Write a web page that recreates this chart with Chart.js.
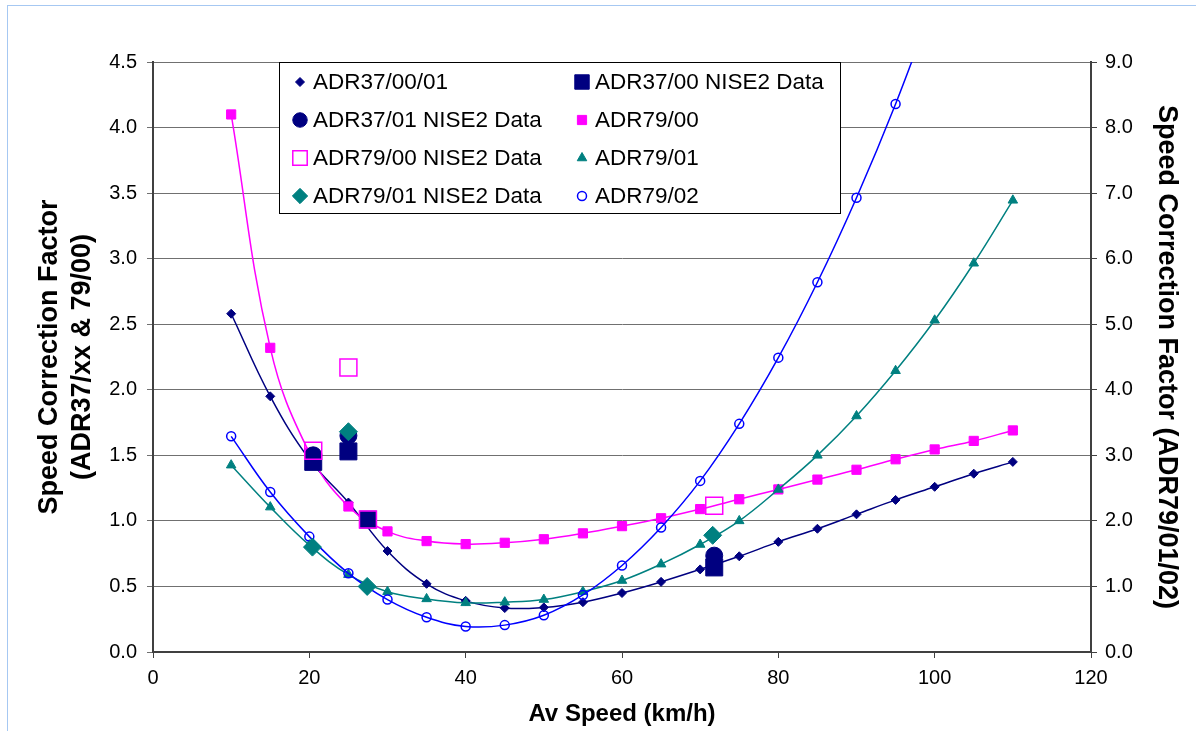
<!DOCTYPE html>
<html>
<head>
<meta charset="utf-8">
<title>Speed Correction Factor</title>
<script src="https://cdn.jsdelivr.net/npm/chart.js@4.4.1/dist/chart.umd.min.js"></script>
<style>
  html, body { margin: 0; padding: 0; background: #fff; }
  #wrap { position: relative; width: 1196px; height: 731px; }
  #frame { position: absolute; left: 7px; top: 5px; right: 0; bottom: 0;
           border-top: 1px solid #a6c8f2; border-left: 1px solid #a6c8f2; pointer-events: none; }
</style>
</head>
<body>
<div id="wrap">
  <canvas id="mycanvas"></canvas>
  <div id="frame"></div>
</div>
<script>
// av speed (km/h) for the model curves
var speeds = [10, 15, 20, 25, 30, 35, 40, 45, 50, 55, 60, 65, 70, 75, 80, 85, 90, 95, 100, 105, 110];

// left axis
var adr37_00_01 = [2.58, 1.95, 1.47, 1.14, 0.77, 0.52, 0.39, 0.335, 0.34, 0.38, 0.45, 0.535, 0.63, 0.73, 0.84, 0.94, 1.05, 1.16, 1.26, 1.36, 1.45];
var adr79_00 = [4.10, 2.32, 1.52, 1.11, 0.92, 0.846, 0.823, 0.833, 0.86, 0.905, 0.96, 1.02, 1.09, 1.165, 1.24, 1.315, 1.39, 1.47, 1.545, 1.61, 1.69];
// right axis
var adr79_01 = [2.85, 2.21, 1.63, 1.18, 0.92, 0.81, 0.75, 0.76, 0.80, 0.92, 1.09, 1.34, 1.64, 2.00, 2.48, 3.00, 3.60, 4.29, 5.06, 5.93, 6.89];
var adr79_02 = [3.29, 2.44, 1.76, 1.20, 0.80, 0.53, 0.39, 0.41, 0.56, 0.87, 1.32, 1.90, 2.61, 3.48, 4.49, 5.64, 6.93, 8.36, 9.95];

// NISE2 measured points
var nise37_00_x = [20.5, 25, 27.5, 71.8];
var nise37_00_y = [1.45, 1.53, 1.01, 0.645];
var nise37_01_x = [20.5, 25, 71.8];
var nise37_01_y = [1.50, 1.65, 0.735];
var nise79_00_x = [20.5, 25, 27.5, 71.8];
var nise79_00_y = [1.535, 2.17, 1.01, 1.115];
var nise79_01_x = [20.4, 25, 27.4, 71.6];
var nise79_01_y = [1.60, 3.36, 1.00, 1.78];

var leftTicks = ['0.0', '0.5', '1.0', '1.5', '2.0', '2.5', '3.0', '3.5', '4.0', '4.5'];

var NAVY = '#000080', MAGENTA = '#FF00FF', TEAL = '#008080', BLUE = '#0000FF';

function pairs(xs, ys) {
  var out = [];
  for (var i = 0; i < ys.length; i++) out.push({x: xs[i], y: ys[i]});
  return out;
}

Chart.defaults.font.family = "'Liberation Sans', Arial, sans-serif";
Chart.defaults.color = '#000';

// legend box inside the plot, drawn over the grid
var boxLegend = {
  id: 'boxLegend',
  afterDatasetsDraw: function(chart) {
    var ctx = chart.ctx, area = chart.chartArea;
    var left = area.left + 126, top = area.top, w = 561, h = 151;
    ctx.save();
    ctx.fillStyle = '#fff';
    ctx.fillRect(left, top, w, h);
    ctx.strokeStyle = '#000';
    ctx.lineWidth = 1;
    ctx.strokeRect(left + 0.5, top + 0.5, w, h);
    ctx.font = "22.5px 'Liberation Sans', Arial, sans-serif";
    ctx.textBaseline = 'middle';
    chart.data.datasets.forEach(function(ds, i) {
      var col = i % 2, row = Math.floor(i / 2);
      var mx = left + 21 + col * 282, my = top + 20 + row * 38;
      var r = ds.pointRadius > 8 ? ds.pointRadius * 0.85 : ds.pointRadius;
      ctx.fillStyle = ds.pointBackgroundColor;
      ctx.strokeStyle = ds.pointBorderColor;
      ctx.lineWidth = ds.pointBorderWidth;
      Chart.helpers.drawPoint(ctx, {pointStyle: ds.pointStyle, rotation: 0,
        radius: r, borderWidth: ds.pointBorderWidth}, mx, my);
      ctx.fillStyle = '#000';
      ctx.fillText(ds.label, mx + 13, my + 1);
    });
    ctx.restore();
  }
};

var ctx = document.getElementById('mycanvas');
new Chart(ctx, {
  type: 'line',
  data: {
    datasets: [
      { label: 'ADR37/00/01', data: pairs(speeds, adr37_00_01), yAxisID: 'y', order: 8,
        borderColor: NAVY, borderWidth: 1.5, tension: 0.4,
        pointStyle: 'rectRot', pointRadius: 4.5, pointBackgroundColor: NAVY, pointBorderColor: NAVY, pointBorderWidth: 1 },
      { label: 'ADR37/00 NISE2 Data', data: pairs(nise37_00_x, nise37_00_y), yAxisID: 'y', order: 4, showLine: false,
        pointStyle: 'rect', pointRadius: 12, pointBackgroundColor: NAVY, pointBorderColor: NAVY, pointBorderWidth: 1 },
      { label: 'ADR37/01 NISE2 Data', data: pairs(nise37_01_x, nise37_01_y), yAxisID: 'y', order: 3, showLine: false,
        pointStyle: 'circle', pointRadius: 8.5, pointBackgroundColor: NAVY, pointBorderColor: NAVY, pointBorderWidth: 1 },
      { label: 'ADR79/00', data: pairs(speeds, adr79_00), yAxisID: 'y', order: 7,
        borderColor: MAGENTA, borderWidth: 1.5, tension: 0.4,
        pointStyle: 'rect', pointRadius: 6.5, pointBackgroundColor: MAGENTA, pointBorderColor: MAGENTA, pointBorderWidth: 1 },
      { label: 'ADR79/00 NISE2 Data', data: pairs(nise79_00_x, nise79_00_y), yAxisID: 'y', order: 2, showLine: false,
        pointStyle: 'rect', pointRadius: 12, pointBackgroundColor: 'rgba(255,255,255,0)', pointBorderColor: MAGENTA, pointBorderWidth: 1.5 },
      { label: 'ADR79/01', data: pairs(speeds, adr79_01), yAxisID: 'y2', order: 6,
        borderColor: TEAL, borderWidth: 1.5, tension: 0.4,
        pointStyle: 'triangle', pointRadius: 5.5, pointBackgroundColor: TEAL, pointBorderColor: TEAL, pointBorderWidth: 1 },
      { label: 'ADR79/01 NISE2 Data', data: pairs(nise79_01_x, nise79_01_y), yAxisID: 'y2', order: 1, showLine: false,
        pointStyle: 'rectRot', pointRadius: 9, pointBackgroundColor: TEAL, pointBorderColor: TEAL, pointBorderWidth: 1 },
      { label: 'ADR79/02', data: pairs(speeds, adr79_02), yAxisID: 'y2', order: 5,
        borderColor: BLUE, borderWidth: 1.5, tension: 0.4,
        pointStyle: 'circle', pointRadius: 4.5, pointBackgroundColor: 'rgba(255,255,255,0)', pointBorderColor: BLUE, pointBorderWidth: 1.5 }
    ]
  },
  options: {
    responsive: true,
    maintainAspectRatio: false,
    animation: false,
    layout: { padding: { left: 0, right: 0, top: 62, bottom: 0 } },
    plugins: { legend: { display: false }, tooltip: { enabled: false } },
    scales: {
      x: {
        type: 'linear', min: 0, max: 120,
        ticks: { stepSize: 20, font: { size: 20 }, padding: 8, color: '#000' },
        grid: { drawOnChartArea: false, tickLength: 6, color: '#404040' },
        border: { color: '#404040', width: 2 },
        title: { display: true, text: 'Av Speed (km/h)', color: '#000',
                 font: { size: 24, weight: 'bold' }, padding: { top: 0, bottom: 2 } },
        afterFit: function(s) { s.height = 79; }
      },
      y: {
        position: 'left', min: 0, max: 4.5,
        ticks: { stepSize: 0.5, font: { size: 20 }, padding: 10, color: '#000',
                 callback: function(v, i) { return leftTicks[i]; } },
        grid: { color: '#707070', tickLength: 6 },
        border: { color: '#404040', width: 2 },
        title: { display: true, text: ['Speed Correction Factor', '(ADR37/xx & 79/00)'], color: '#000',
                 font: { size: 27, weight: 'bold', lineHeight: 1.22 }, padding: { top: 33, bottom: 0 } },
        afterFit: function(s) { s.width = 153; }
      },
      y2: {
        position: 'right', min: 0, max: 9,
        ticks: { stepSize: 1, font: { size: 20 }, padding: 8, color: '#000',
                 callback: function(v) { return v.toFixed(1); } },
        grid: { drawOnChartArea: false, tickLength: 6, color: '#404040' },
        border: { color: '#404040', width: 2 },
        title: { display: true, text: 'Speed Correction Factor (ADR79/01/02)', color: '#000',
                 font: { size: 27, weight: 'bold', lineHeight: 1.2 }, padding: { top: 13, bottom: 0 } },
        afterFit: function(s) { s.width = 105; }
      }
    }
  },
  plugins: [boxLegend]
});
</script>
</body>
</html>
